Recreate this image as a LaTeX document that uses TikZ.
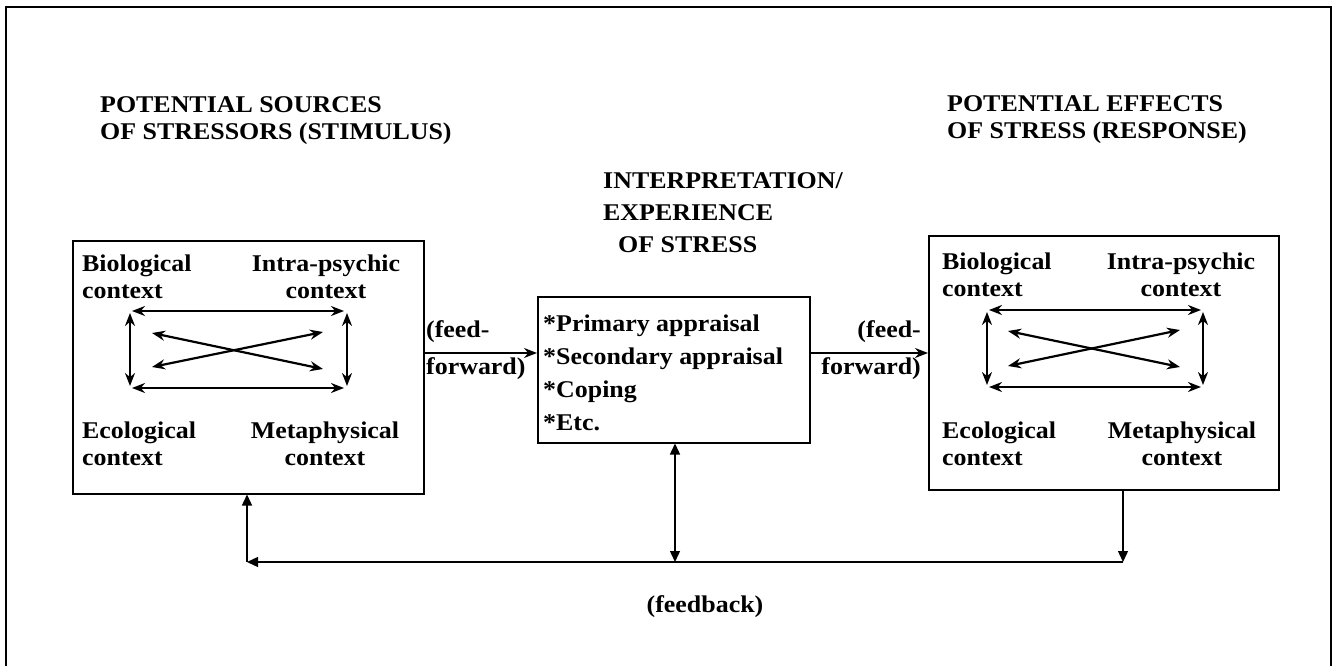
\documentclass[tikz,border=0pt]{standalone}
\usepackage{fontspec}
\setmainfont{Liberation Serif}[FakeStretch=1.08]
\usetikzlibrary{arrows.meta}
\begin{document}
\begin{tikzpicture}[x=1pt,y=-1pt,
  every node/.style={font=\fontsize{24}{27}\selectfont\bfseries},
  box/.style={draw, line width=1.5pt, inner sep=0pt, anchor=north west},
  txt/.style={inner sep=0pt, anchor=north west, align=left},
  ctxt/.style={inner sep=0pt, anchor=north, align=center},
  rtxt/.style={inner sep=0pt, anchor=north east, align=right},
  sk/.style={font=\fontsize{24}{#1}\selectfont\bfseries},
  inarr/.style={line width=2.2pt, {Stealth[length=13pt,width=10pt]}-{Stealth[length=13pt,width=10pt]}},
  ffarr/.style={line width=1.6pt, -{Stealth[length=13pt,width=10pt]}},
  fbarr/.style={line width=1.4pt, -{Triangle[length=11pt,width=10pt]}},
  fbdarr/.style={line width=1.4pt, {Triangle[length=11pt,width=10pt]}-{Triangle[length=11pt,width=10pt]}},
  frame/.style={line width=1.8pt}]
\useasboundingbox (0,0) rectangle (1339,666);
% outer frame (open at the bottom)
\draw[frame] (6,666) -- (6,7) -- (1331,7) -- (1331,666);

% titles
\node[txt] (srcT) at (100,96) {POTENTIAL SOURCES\\OF STRESSORS (STIMULUS)};
\node[txt, sk=32] (intT) at (603,172) {INTERPRETATION/\\EXPERIENCE\\\hspace*{15pt}OF STRESS};
\node[txt] (effT) at (947,95) {POTENTIAL EFFECTS\\OF STRESS (RESPONSE)};

% boxes
\node[box, minimum width=351pt, minimum height=253pt] (lbox) at (72,240) {};
\node[box, minimum width=272pt, minimum height=146pt] (mbox) at (537,296) {};
\node[box, minimum width=350pt, minimum height=254pt] (rbox) at (928,235) {};

% left box texts
\node[txt] (lB) at (82,255) {Biological\\context};
\node[ctxt] (lI) at (326,255) {Intra-psychic\\context};
\node[txt] (lE) at (82,422) {Ecological\\context};
\node[ctxt] (lM) at (325,422) {Metaphysical\\context};

% right box texts
\node[txt] (rB) at (942,253) {Biological\\context};
\node[ctxt] (rI) at (1181,253) {Intra-psychic\\context};
\node[txt] (rE) at (942,422) {Ecological\\context};
\node[ctxt] (rM) at (1182,422) {Metaphysical\\context};

% middle list
\node[txt, sk=33] (mlist) at (543,315) {*Primary appraisal\\*Secondary appraisal\\*Coping\\*Etc.};

% left inner arrows
\coordinate (la1) at (132,311); \coordinate (la2) at (344,311);
\coordinate (lb1) at (132,388); \coordinate (lb2) at (344,388);
\coordinate (lc1) at (130,313); \coordinate (lc2) at (130,386);
\coordinate (ld1) at (347,313); \coordinate (ld2) at (347,386);
\coordinate (le1) at (152,333); \coordinate (le2) at (323,369);
\coordinate (lf1) at (152,367); \coordinate (lf2) at (323,332);
\draw[inarr] (la1) -- (la2);
\draw[inarr] (lb1) -- (lb2);
\draw[inarr] (lc1) -- (lc2);
\draw[inarr] (ld1) -- (ld2);
\draw[inarr] (le1) -- (le2);
\draw[inarr] (lf1) -- (lf2);

% right inner arrows
\coordinate (ra1) at (989,310); \coordinate (ra2) at (1201,310);
\coordinate (rb1) at (989,387); \coordinate (rb2) at (1201,387);
\coordinate (rc1) at (987,312); \coordinate (rc2) at (987,385);
\coordinate (rd1) at (1203,312); \coordinate (rd2) at (1203,385);
\coordinate (re1) at (1008,331); \coordinate (re2) at (1180,367);
\coordinate (rf1) at (1008,366); \coordinate (rf2) at (1180,330);
\draw[inarr] (ra1) -- (ra2);
\draw[inarr] (rb1) -- (rb2);
\draw[inarr] (rc1) -- (rc2);
\draw[inarr] (rd1) -- (rd2);
\draw[inarr] (re1) -- (re2);
\draw[inarr] (rf1) -- (rf2);

% feed-forward arrows
\coordinate (ffy) at (0,353);
\draw[ffarr] (lbox.east |- ffy) -- (mbox.west |- ffy);
\draw[ffarr] (mbox.east |- ffy) -- (rbox.west |- ffy);
\node[txt, sk=37] (ffL) at (426,320) {(feed-\\forward)};
\node[rtxt, sk=37] (ffR) at (921,320) {(feed-\\forward)};

% feedback loop
\coordinate (fbR) at (1123,562);
\coordinate (fbM) at (675,562);
\coordinate (fbL) at (247,562);
\draw[fbarr] (rbox.south -| fbR) -- (fbR);
\draw[fbarr] (fbR) -- (fbL);
\draw[fbarr] (fbL) -- (lbox.south -| fbL);
\draw[fbdarr] (mbox.south -| fbM) -- (fbM);
\node (fbT) at (705,607) {(feedback)};
\end{tikzpicture}
\end{document}
